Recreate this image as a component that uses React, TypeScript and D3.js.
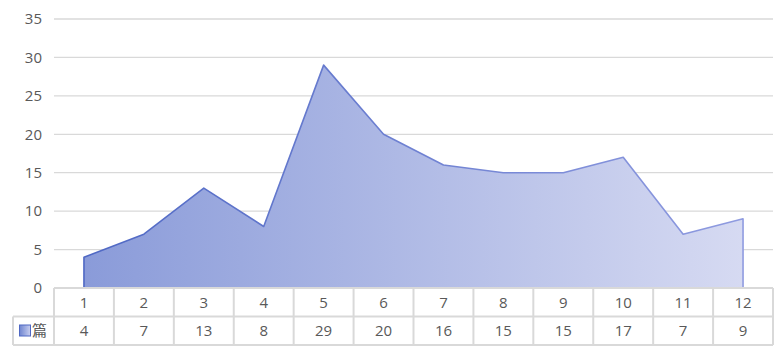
import React, { useEffect, useRef } from 'react';
import * as d3 from 'd3';

const months = ['1', '2', '3', '4', '5', '6', '7', '8', '9', '10', '11', '12'];
const counts = [4, 7, 13, 8, 29, 20, 16, 15, 15, 17, 7, 9];
const yTicks = [0, 5, 10, 15, 20, 25, 30, 35];
const seriesName = '篇';

export default function App() {
  const ref = useRef<SVGSVGElement>(null);

  useEffect(() => {
    const width = 782;
    const height = 354;
    const left = 54;
    const right = 773;
    const top = 19;
    const bottom = 288;
    const rowH = 28.5;
    const font = '"Open Sans", "Noto Sans CJK SC", sans-serif';
    const fontSize = '15px';

    const svg = d3.select(ref.current);
    svg.selectAll('*').remove();
    svg.attr('width', width).attr('height', height);

    const x = d3.scaleBand<string>().domain(months).range([left, right]);
    const y = d3.scaleLinear().domain([0, 35]).range([bottom, top]);
    const cx = (d: string) => (x(d) as number) + x.bandwidth() / 2;

    const defs = svg.append('defs');
    const fillGrad = defs
      .append('linearGradient')
      .attr('id', 'areaFill')
      .attr('gradientUnits', 'userSpaceOnUse')
      .attr('x1', cx(months[0]))
      .attr('x2', cx(months[months.length - 1]))
      .attr('y1', 0)
      .attr('y2', 0);
    fillGrad.append('stop').attr('offset', '0%').attr('stop-color', '#8a9bd9');
    fillGrad.append('stop').attr('offset', '100%').attr('stop-color', '#d6daf2');

    const strokeGrad = defs
      .append('linearGradient')
      .attr('id', 'areaStroke')
      .attr('gradientUnits', 'userSpaceOnUse')
      .attr('x1', cx(months[0]))
      .attr('x2', cx(months[months.length - 1]))
      .attr('y1', 0)
      .attr('y2', 0);
    strokeGrad.append('stop').attr('offset', '0%').attr('stop-color', '#4f68c4');
    strokeGrad.append('stop').attr('offset', '100%').attr('stop-color', '#8f9be0');

    const legendGrad = defs
      .append('linearGradient')
      .attr('id', 'legendFill')
      .attr('x1', 0)
      .attr('x2', 1);
    legendGrad.append('stop').attr('offset', '0%').attr('stop-color', '#6f85d0');
    legendGrad.append('stop').attr('offset', '100%').attr('stop-color', '#c9cff0');

    // grid
    svg
      .append('g')
      .selectAll('line')
      .data(yTicks.slice(1))
      .enter()
      .append('line')
      .attr('x1', left)
      .attr('x2', right)
      .attr('y1', d => y(d))
      .attr('y2', d => y(d))
      .attr('stroke', '#d9d9d9')
      .attr('stroke-width', 1.3);

    svg
      .append('g')
      .selectAll('text')
      .data(yTicks)
      .enter()
      .append('text')
      .attr('x', 42)
      .attr('y', d => y(d))
      .attr('dy', '0.35em')
      .attr('text-anchor', 'end')
      .style('font-family', font)
      .style('font-size', fontSize)
      .style('fill', '#595959')
      .text(d => d);

    // area
    const area = d3
      .area<number>()
      .x((d, i) => cx(months[i]))
      .y0(y(0))
      .y1(d => y(d));

    svg
      .append('path')
      .attr('d', area(counts) as string)
      .attr('fill', 'url(#areaFill)')
      .attr('stroke', 'url(#areaStroke)')
      .attr('stroke-width', 1.6)
      .attr('stroke-linejoin', 'round');

    // data table
    const tableColor = '#d9d9d9';
    const table = svg.append('g');
    const row1 = bottom;
    const row2 = bottom + rowH;
    const row3 = bottom + rowH * 2;
    const labelLeft = 13;

    table
      .append('line')
      .attr('x1', left)
      .attr('x2', right)
      .attr('y1', row1)
      .attr('y2', row1)
      .attr('stroke', tableColor)
      .attr('stroke-width', 2);
    [row2, row3].forEach(ry => {
      table
        .append('line')
        .attr('x1', labelLeft)
        .attr('x2', right)
        .attr('y1', ry)
        .attr('y2', ry)
        .attr('stroke', tableColor)
        .attr('stroke-width', 2);
    });
    table
      .append('line')
      .attr('x1', labelLeft)
      .attr('x2', labelLeft)
      .attr('y1', row2)
      .attr('y2', row3)
      .attr('stroke', tableColor)
      .attr('stroke-width', 2);
    table
      .selectAll('.vline')
      .data([...months.map(m => x(m) as number), right])
      .enter()
      .append('line')
      .attr('x1', d => d)
      .attr('x2', d => d)
      .attr('y1', row1)
      .attr('y2', row3)
      .attr('stroke', tableColor)
      .attr('stroke-width', 2);

    table
      .selectAll('.cat')
      .data(months)
      .enter()
      .append('text')
      .attr('x', d => cx(d))
      .attr('y', row1 + rowH / 2)
      .attr('dy', '0.35em')
      .attr('text-anchor', 'middle')
      .style('font-family', font)
      .style('font-size', fontSize)
      .style('fill', '#595959')
      .text(d => d);

    table
      .selectAll('.val')
      .data(counts)
      .enter()
      .append('text')
      .attr('x', (d, i) => cx(months[i]))
      .attr('y', row2 + rowH / 2)
      .attr('dy', '0.35em')
      .attr('text-anchor', 'middle')
      .style('font-family', font)
      .style('font-size', fontSize)
      .style('fill', '#595959')
      .text(d => d);

    table
      .append('rect')
      .attr('x', 19.5)
      .attr('y', row2 + 8.5)
      .attr('width', 11)
      .attr('height', 11)
      .attr('fill', 'url(#legendFill)')
      .attr('stroke', '#4f68c4')
      .attr('stroke-width', 1);
    table
      .append('text')
      .attr('x', 32)
      .attr('y', row2 + rowH / 2)
      .attr('dy', '0.35em')
      .style('font-family', font)
      .style('font-size', fontSize)
      .style('fill', '#595959')
      .text(seriesName);
  }, []);

  return <svg ref={ref} style={{ position: 'absolute', left: 0, top: 0, display: 'block' }} />;
}
